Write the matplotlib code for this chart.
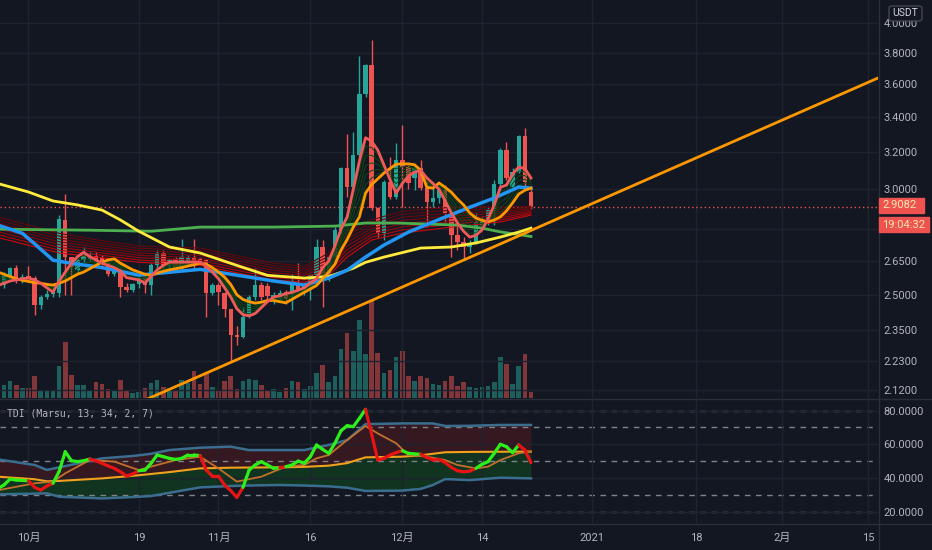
import numpy as np
import matplotlib.pyplot as plt
from matplotlib.collections import LineCollection
from matplotlib.patches import Rectangle, FancyBboxPatch
from matplotlib.lines import Line2D
from matplotlib.ticker import NullLocator

plt.rcParams['font.family'] = ['Roboto', 'Noto Sans CJK JP']

# ---- candles, day index counted from 2020-10-01 ----
days = np.arange(-4, 83)
opens = [2.542, 2.573, 2.617, 2.564, 2.581, 2.573, 2.456, 2.490, 2.503, 2.507,
         2.845, 2.668, 2.608, 2.654, 2.660, 2.672, 2.665, 2.640, 2.590, 2.608,
         2.533, 2.520, 2.546, 2.573, 2.542, 2.631, 2.687, 2.631, 2.660, 2.622,
         2.644, 2.668, 2.660, 2.654, 2.507, 2.542, 2.507, 2.439, 2.332, 2.324,
         2.410, 2.490, 2.542, 2.540, 2.490, 2.490, 2.511, 2.507, 2.550, 2.510,
         2.533, 2.586, 2.715, 2.573, 2.668, 2.796, 3.112, 3.012, 3.183, 3.537,
         3.719, 2.903, 2.781, 3.038, 2.960, 3.155, 3.118, 3.060, 3.112, 3.006,
         2.935, 2.955, 2.996, 2.859, 2.772, 2.739, 2.715, 2.734, 2.820, 2.835,
         2.894, 3.027, 3.211, 3.012, 3.091, 3.290, 2.986]
highs = [2.600, 2.622, 2.630, 2.590, 2.626, 2.580, 2.500, 2.520, 2.530, 2.870,
         2.976, 2.670, 2.660, 2.715, 2.690, 2.690, 2.680, 2.650, 2.620, 2.620,
         2.550, 2.550, 2.580, 2.580, 2.640, 2.700, 2.700, 2.660, 2.670, 2.753,
         2.680, 2.753, 2.670, 2.660, 2.550, 2.550, 2.510, 2.440, 2.370, 2.443,
         2.500, 2.620, 2.555, 2.550, 2.510, 2.520, 2.520, 2.590, 2.640, 2.550,
         2.590, 2.753, 2.748, 2.680, 2.810, 3.118, 3.300, 3.310, 3.778, 3.725,
         3.884, 2.910, 3.050, 3.172, 3.250, 3.353, 3.130, 3.125, 3.155, 3.038,
         3.040, 3.006, 3.022, 2.894, 2.835, 2.762, 2.748, 2.879, 2.860, 2.908,
         3.048, 3.220, 3.256, 3.112, 3.295, 3.335, 3.006]
lows = [2.530, 2.564, 2.550, 2.550, 2.560, 2.414, 2.440, 2.480, 2.490, 2.490,
        2.499, 2.499, 2.590, 2.644, 2.650, 2.630, 2.630, 2.580, 2.580, 2.490,
        2.510, 2.510, 2.530, 2.507, 2.500, 2.620, 2.610, 2.620, 2.610, 2.610,
        2.630, 2.610, 2.630, 2.405, 2.500, 2.456, 2.405, 2.225, 2.290, 2.320,
        2.400, 2.477, 2.477, 2.480, 2.460, 2.480, 2.460, 2.435, 2.507, 2.500,
        2.477, 2.573, 2.447, 2.560, 2.650, 2.780, 2.960, 2.990, 3.170, 3.520,
        2.894, 2.762, 2.748, 2.950, 2.950, 2.908, 3.000, 2.996, 2.996, 2.810,
        2.910, 2.930, 2.835, 2.668, 2.700, 2.654, 2.687, 2.730, 2.810, 2.820,
        2.820, 2.996, 3.048, 2.996, 3.085, 3.012, 2.900]
closes = [2.586, 2.617, 2.564, 2.577, 2.568, 2.456, 2.490, 2.503, 2.510, 2.850,
          2.668, 2.622, 2.654, 2.677, 2.670, 2.644, 2.644, 2.590, 2.610, 2.533,
          2.520, 2.546, 2.573, 2.542, 2.631, 2.687, 2.631, 2.654, 2.622, 2.668,
          2.668, 2.649, 2.644, 2.507, 2.542, 2.511, 2.439, 2.332, 2.324, 2.405,
          2.490, 2.542, 2.490, 2.495, 2.500, 2.507, 2.486, 2.550, 2.520, 2.537,
          2.586, 2.715, 2.573, 2.668, 2.796, 3.112, 3.012, 3.183, 3.537, 3.719,
          2.903, 2.781, 3.038, 2.960, 3.155, 3.118, 3.033, 3.112, 3.006, 2.935,
          2.955, 2.996, 2.879, 2.772, 2.739, 2.715, 2.734, 2.835, 2.840, 2.894,
          3.027, 3.211, 3.059, 3.091, 3.290, 3.038, 2.908]
volume = [13.3, 16.7, 13.3, 10, 10, 22.3, 6.7, 6.7, 7.7, 31.7,
          56.7, 23.3, 13.3, 12.7, 7.7, 15.7, 14, 9, 6.7, 17.7,
          7.7, 5, 6, 10, 15, 18.3, 11, 10, 8.3, 18.3,
          15, 26.7, 14.3, 25.7, 11, 7.7, 16.7, 21.7, 9, 16.7,
          19, 18.3, 13.3, 8.3, 9, 6, 10, 16.7, 15.7, 9,
          11.7, 25, 33.3, 15.7, 21.7, 49, 65, 47.7, 78.3, 44.3,
          98.3, 45.7, 25, 27.7, 41, 47.7, 22.3, 16.7, 22.3, 19.7,
          14.3, 13, 17.3, 21.7, 11.7, 15.7, 11, 10, 11, 11.7,
          16, 41, 34, 14.3, 31.7, 44, 5.7]
last_price = 2.9082

# ---- moving averages ----
fast_days = np.arange(-5, 83)
salmon = [2.54, 2.55, 2.56, 2.565, 2.57, 2.573, 2.565, 2.55, 2.53, 2.511,
          2.56, 2.60, 2.64, 2.67, 2.69, 2.67, 2.655, 2.64, 2.63, 2.62,
          2.605, 2.575, 2.57, 2.565, 2.55, 2.58, 2.61, 2.63, 2.645, 2.645,
          2.645, 2.645, 2.645, 2.645, 2.625, 2.60, 2.57, 2.53, 2.49, 2.44,
          2.415, 2.41, 2.42, 2.445, 2.47, 2.49, 2.495, 2.505, 2.51, 2.52,
          2.53, 2.55, 2.57, 2.62, 2.65, 2.72, 2.80, 2.86, 3.00, 3.15,
          3.28, 3.26, 3.21, 3.13, 3.05, 2.98, 3.03, 3.07, 3.09, 3.10,
          3.06, 3.03, 3.00, 2.94, 2.88, 2.83, 2.79, 2.762, 2.77, 2.796,
          2.85, 2.92, 3.01, 3.022, 3.08, 3.118, 3.11, 3.059]
orange = [2.60, 2.59, 2.58, 2.57, 2.563, 2.558, 2.553, 2.55, 2.545, 2.542,
          2.55, 2.56, 2.575, 2.59, 2.60, 2.615, 2.63, 2.645, 2.655, 2.66,
          2.64, 2.625, 2.61, 2.60, 2.59, 2.586, 2.595, 2.603, 2.61, 2.615,
          2.62, 2.627, 2.633, 2.64, 2.635, 2.62, 2.60, 2.577, 2.545, 2.50,
          2.48, 2.47, 2.464, 2.468, 2.475, 2.475, 2.47, 2.465, 2.48, 2.495,
          2.51, 2.525, 2.54, 2.57, 2.60, 2.635, 2.70, 2.75, 2.81, 2.86,
          2.98, 3.025, 3.055, 3.085, 3.11, 3.133, 3.135, 3.135, 3.13, 3.10,
          3.01, 3.006, 3.033, 3.01, 2.985, 2.95, 2.92, 2.88, 2.855, 2.843,
          2.836, 2.845, 2.86, 2.89, 2.93, 2.975, 2.995, 3.006]

yellow_days = [-5, 0, 4, 8, 12, 15, 18, 23, 28, 34, 39, 45, 49, 53, 55, 58, 64, 69, 73, 77, 80, 82]
yellow = [3.03, 2.986, 2.94, 2.92, 2.894, 2.845, 2.79, 2.715, 2.687, 2.63, 2.585,
          2.573, 2.58, 2.617, 2.644, 2.668, 2.71, 2.715, 2.734, 2.762, 2.786, 2.805]
green_days = [-5, 10, 20, 28, 40, 50, 55, 60, 65, 70, 74, 77, 82]
green_ma = [2.80, 2.795, 2.79, 2.81, 2.81, 2.815, 2.83, 2.83, 2.825, 2.82, 2.805, 2.787, 2.765]
blue_days = [-5, -1, 1, 4, 6, 12, 18, 23, 28, 34, 40, 45, 49, 52, 55, 58, 62, 66, 72, 76, 80, 82]
blue = [2.82, 2.78, 2.73, 2.654, 2.644, 2.62, 2.586, 2.599, 2.612, 2.586, 2.56,
        2.542, 2.573, 2.608, 2.668, 2.724, 2.786, 2.835, 2.908, 2.955, 3.012, 3.006]
ribbon_days = [-5, 5, 12, 18, 28, 40, 45, 49, 52, 56, 61, 69, 77, 82]
ribbon_top = [2.86, 2.78, 2.745, 2.72, 2.71, 2.64, 2.626, 2.687, 2.79, 2.845, 2.889, 2.908, 2.908, 2.913]
ribbon_bot = [2.76, 2.687, 2.665, 2.644, 2.63, 2.564, 2.555, 2.586, 2.668, 2.748, 2.781, 2.81, 2.835, 2.869]
trend_days = [15, 140]
trend_prices = [2.045, 3.66]

# ---- TDI ----
rsi = [34.0, 36.1, 39.6, 39.0, 38.8, 38.6, 34.7, 33.1, 35.5, 37.1,
       44.1, 55.7, 50.4, 49.9, 50.4, 51.4, 50.4, 48.9, 47.3, 45.9,
       43.9, 41.4, 42.6, 44.5, 44.9, 48.9, 53.8, 52.8, 51.8, 51.2,
       51.8, 53.8, 53.8, 53.4, 44.9, 41.4, 41.4, 36.1, 32.8, 28.8,
       34.7, 44.9, 47.9, 49.9, 47.9, 45.9, 46.3, 46.9, 47.9, 50.2,
       48.9, 52.8, 59.7, 57.1, 54.8, 60.7, 68.1, 71.1, 70.5, 75.4,
       80.7, 66.0, 50.8, 51.8, 53.8, 55.2, 56.3, 54.8, 54.4, 54.2,
       52.4, 50.8, 51.2, 49.3, 46.5, 44.5, 43.9, 44.3, 45.9, 48.3,
       49.9, 54.8, 60.1, 58.7, 55.2, 59.7, 56.7, 49.3]
rsi_runs = [('g', -4, 0), ('r', 1, 4), ('g', 5, 10), ('r', 11, 18), ('g', 19, 28),
            ('r', 29, 35), ('g', 36, 41), ('r', 42, 42), ('g', 43, 55), ('r', 56, 61),
            ('g', 62, 64), ('r', 65, 73), ('g', 74, 80), ('r', 81, 82)]
sig_days = [-5, 1, 4, 6, 10, 14, 18, 21, 24, 28, 31, 34, 38, 40, 42, 45, 47, 49, 52,
            55, 57, 60, 62, 65, 68, 70, 73, 75, 77, 80, 82]
signal = [33.0, 37.1, 38.1, 43.0, 50.8, 49.9, 44.9, 47.9, 50.8, 52.8, 45.9, 38.1, 41.0,
          44.0, 46.9, 47.9, 51.8, 53.8, 62.6, 70.9, 66.5, 60.7, 53.8, 52.8, 50.8, 47.9,
          45.9, 46.9, 50.8, 54.8, 55.8]
band_days = [-5, 1, 3, 5, 12, 17, 20, 23, 28, 33, 36, 41, 45, 49, 52, 55, 61, 64, 66, 68, 72, 77, 82]
band_up = [51.2, 47.9, 45.0, 46.5, 51.8, 53.2, 54.5, 56.7, 58.1, 58.7, 56.7, 56.7,
           56.7, 59.7, 62.6, 72.0, 72.4, 72.4, 72.4, 70.9, 71.0, 71.5, 71.5]
band_mid = [41.0, 39.5, 38.3, 38.5, 40.0, 41.5, 42.6, 43.7, 45.9, 46.3, 46.4, 46.5,
            46.8, 47.5, 49.0, 52.4, 52.8, 53.6, 54.5, 55.4, 55.6, 55.7, 55.8]
band_low = [30.6, 31.0, 31.2, 29.2, 28.2, 29.0, 29.6, 31.5, 34.7, 35.5, 35.8, 36.1,
            35.8, 35.3, 34.5, 32.6, 32.8, 33.8, 36.1, 39.6, 39.0, 40.4, 40.0]
tdi_levels = [80, 70, 50, 30, 20]

price_ticks = [2.12, 2.23, 2.35, 2.50, 2.65, 2.80, 3.00, 3.20, 3.40, 3.60, 3.80, 4.00]
hidden_ticks = [2.80]  # covered by the countdown box
tdi_ticks = [20, 40, 60, 80]
time_ticks = [0, 18, 31, 46, 61, 74, 92, 109, 123, 137]
time_labels = ['10月', '19', '11月', '16', '12月', '14', '2021', '18', '2月', '15']

# ---- figure ----
BG = '#131722'
GRID = '#1f2330'
TXT = '#b2b5be'
W, H = 932, 550
fig = plt.figure(figsize=(W / 100, H / 100), dpi=100, facecolor=BG)

ax = fig.add_axes([0, 1 - 398 / H, 878 / W, 398 / H])
axv = ax.twinx()
axt = fig.add_axes([0, 1 - 523 / H, 878 / W, 124 / H], sharex=ax)
ax.set_zorder(2)
axv.set_zorder(1)
ax.patch.set_visible(False)
axv.set_axis_off()
axt.set_facecolor(BG)

ax.set_yscale('log')
ax.set_xlim(-4.65, 138.63)
ax.set_ylim(2.091, 4.162)
axv.set_ylim(0, 400)
axt.set_ylim(13.7, 86.8)

o = np.array(opens); c = np.array(closes)
up = c >= o
cols = np.where(up, '#26a69a', '#ef5350')
vcols = np.where(up, '#1d5f5d', '#82363a')

axv.bar(days, volume, width=0.75, color=vcols, zorder=1)

# long-term ribbon (dark red lines)
for f in np.linspace(0, 1, 8):
    line = np.array(ribbon_top) ** (1 - f) * np.array(ribbon_bot) ** f
    col = (0.38 + 0.42 * f ** 2, 0.03, 0.05)
    ax.plot(ribbon_days, line, color=col, lw=0.8, zorder=3.5)
# short-term ribbon (dark green lines)
for f in np.linspace(0.15, 0.85, 5):
    line = np.array(salmon) ** (1 - f) * np.array(orange) ** f
    ax.plot(fast_days, line, color='#0d4a16', lw=0.7, zorder=3.6)

ax.vlines(days, lows, highs, color=cols, lw=1, zorder=3)
ax.bar(days, np.maximum(np.abs(c - o), 0.004), bottom=np.minimum(o, c),
       width=0.72, color=cols, zorder=3)

ax.plot(green_days, green_ma, color='#4caf50', lw=2, zorder=4)
ax.plot(yellow_days, yellow, color='#ffeb3b', lw=2, zorder=4.1)
ax.plot(blue_days, blue, color='#2196f3', lw=2.5, zorder=4.2)
ax.plot(fast_days, orange, color='#ff9800', lw=2, zorder=4.3)
ax.plot(fast_days, salmon, color='#f05a5a', lw=2, zorder=4.4)
ax.plot(trend_days, trend_prices, color='#ff9800', lw=2, zorder=5)
ax.axhline(last_price, color='#ef5350', lw=1, ls=(0, (1, 2)), zorder=2)

ax.yaxis.tick_right()
ax.set_yticks(price_ticks)
ax.set_yticklabels(['' if t in hidden_ticks else '%.4f' % t for t in price_ticks])
ax.yaxis.set_minor_locator(NullLocator())
ax.tick_params(axis='y', length=0, pad=4, labelsize=8, labelcolor=TXT)
ax.tick_params(axis='x', length=0, labelbottom=False)
ax.grid(True, color=GRID, lw=1)

# TDI pane
axt.fill_between(band_days, band_mid, band_up, color='#361820', lw=0, zorder=1)
axt.fill_between(band_days, band_low, band_mid, color='#10341f', lw=0, zorder=1)
for lv in tdi_levels:
    axt.axhline(lv, color='#80838c', lw=1, ls=(0, (4, 4)), zorder=1.5)
axt.plot(band_days, band_up, color='#3b6e8e', lw=1.8, zorder=2)
axt.plot(band_days, band_low, color='#3b6e8e', lw=1.8, zorder=2)
axt.plot(band_days, band_mid, color='#f2a11d', lw=1.5, zorder=2.2)
axt.plot(sig_days, signal, color='#c1702c', lw=1.3, zorder=2.4)

segs, scol = [], []
for colr, d0, d1 in rsi_runs:
    for d in range(d0, d1 + 1):
        i = d - fast_days[0]
        segs.append([(d - 1, rsi[i - 1]), (d, rsi[i])])
        scol.append('#2df01a' if colr == 'g' else '#e81414')
axt.add_collection(LineCollection(segs, colors=scol, linewidths=2.3,
                                  capstyle='round', zorder=3))

axt.yaxis.tick_right()
axt.set_yticks(tdi_ticks)
axt.set_yticklabels(['%.4f' % t for t in tdi_ticks])
axt.tick_params(axis='y', length=0, pad=4, labelsize=8, labelcolor=TXT)
axt.set_xticks(time_ticks)
axt.set_xticklabels(time_labels)
axt.tick_params(axis='x', length=0, pad=7, labelsize=8, labelcolor=TXT)
axt.grid(True, color=GRID, lw=1)

for a in (ax, axv, axt):
    for s in a.spines.values():
        s.set_visible(False)

# separators
def fy(y):
    return 1 - y / H

fig.add_artist(Line2D([0, 1], [fy(398.5)] * 2, color='#2a2e39', lw=1))
fig.add_artist(Line2D([0, 1], [fy(523.5)] * 2, color='#2a2e39', lw=1))
fig.add_artist(Line2D([878.5 / W] * 2, [0, 1], color='#2a2e39', lw=1))

fig.text(7 / W, fy(413), 'TDI (Marsu, 13, 34, 2, 7)', family='DejaVu Sans Mono',
         fontsize=7, color=TXT, va='center', ha='left')

# price label + countdown
fig.add_artist(Rectangle((879 / W, fy(212.5)), 45 / W, 14 / H,
                         transform=fig.transFigure, color='#ef5350', zorder=5))
fig.text(882 / W, fy(205.5), '%.4f' % last_price, fontsize=8, color='#fbe8ad',
         va='center', ha='left', zorder=6)
fig.add_artist(Rectangle((879 / W, fy(232)), 50 / W, 15 / H,
                         transform=fig.transFigure, color='#ef5350', zorder=5))
fig.text(882 / W, fy(224.5), '19:04:32', fontsize=8, color='#fbe8ad',
         va='center', ha='left', zorder=6)

fig.add_artist(FancyBboxPatch((889 / W, fy(21)), 33 / W, 15 / H,
                              boxstyle='round,pad=0,rounding_size=0.004',
                              transform=fig.transFigure, facecolor=BG,
                              edgecolor='#434651', lw=1, zorder=5))
fig.text(905.5 / W, fy(13.5), 'USDT', fontsize=7.5, color='#d1d4dc',
         va='center', ha='center', zorder=6)

fig.savefig('out.png', dpi=100, facecolor=BG)
